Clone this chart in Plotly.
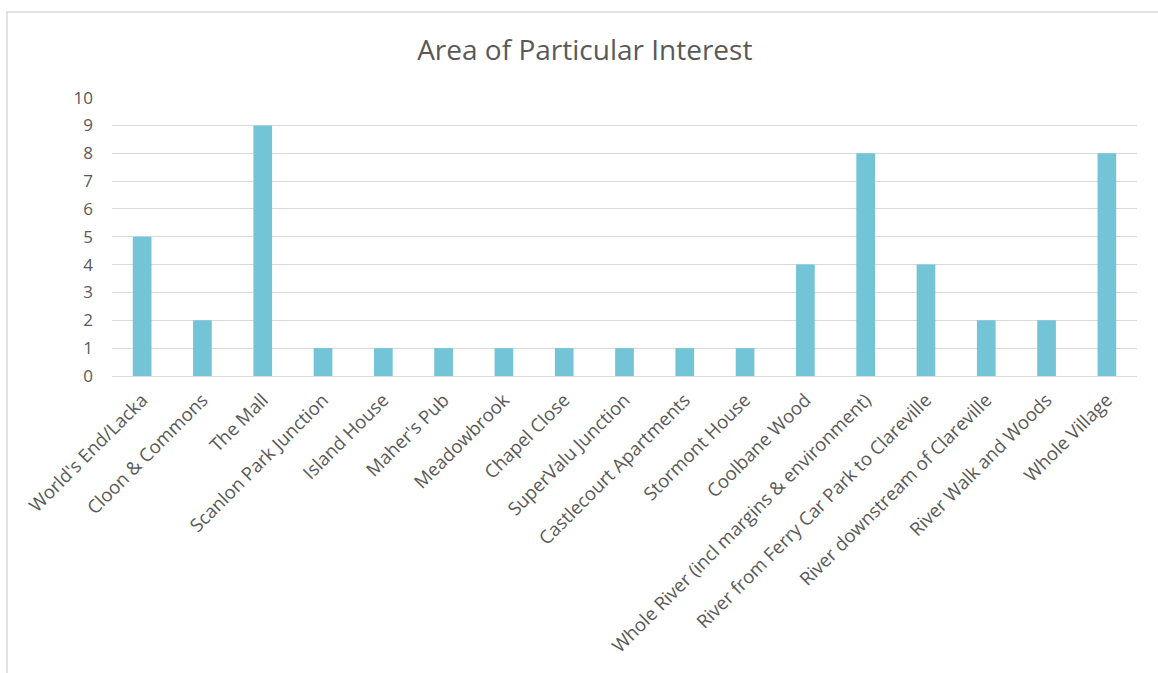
import plotly.graph_objects as go

categories = [
    "World's End/Lacka", "Cloon & Commons", "The Mall", "Scanlon Park Junction",
    "Island House", "Maher's Pub", "Meadowbrook", "Chapel Close",
    "SuperValu Junction", "Castlecourt Apartments", "Stormont House",
    "Coolbane Wood", "Whole River (incl margins & environment)",
    "River from Ferry Car Park to Clareville", "River downstream of Clareville",
    "River Walk and Woods", "Whole Village",
]
counts = [5, 2, 9, 1, 1, 1, 1, 1, 1, 1, 1, 4, 8, 4, 2, 2, 8]
y_ticks = list(range(0, 11))

W, H = 1158, 673
L, R, T, B = 112, 21, 97, 297
pw, ph = W - L - R, H - T - B

fig = go.Figure(go.Bar(
    x=categories, y=counts,
    marker=dict(color="#73C4D7", line=dict(width=0)),
    width=0.31,
))

# outer chart frame
fig.add_shape(
    type="rect", xref="paper", yref="paper",
    x0=(7 - L) / pw, x1=(W + 20 - L) / pw,
    y0=-(H + 20 - (T + ph)) / ph, y1=((T + ph) - 12) / ph,
    line=dict(color="#D9D9D9", width=1.5), fillcolor="rgba(0,0,0,0)", layer="below",
)

fig.update_layout(
    width=W, height=H,
    margin=dict(l=L, r=R, t=T, b=B),
    paper_bgcolor="white", plot_bgcolor="white",
    font=dict(family="Open Sans, sans-serif", color="#595959", size=17),
    title=dict(text="Area of Particular Interest", x=0.505, xanchor="center",
               y=1 - 50 / H, yanchor="middle",
               font=dict(size=28, color="#595959")),
    showlegend=False,
    bargap=0.69,
)
fig.update_xaxes(
    tickangle=-45, showgrid=False, showline=True, linecolor="#D9D9D9",
    linewidth=1, ticks="", ticklabelstandoff=5,
    tickfont=dict(size=18.5, color="#595959"),
)
fig.update_yaxes(
    range=[0, 10.02], tickvals=y_ticks, showgrid=True, gridcolor="#D9D9D9",
    gridwidth=1, zeroline=False, showline=False, ticks="",
    ticklabelstandoff=18, tickfont=dict(size=17, color="#595959"),
)

fig.write_html("out.html")
